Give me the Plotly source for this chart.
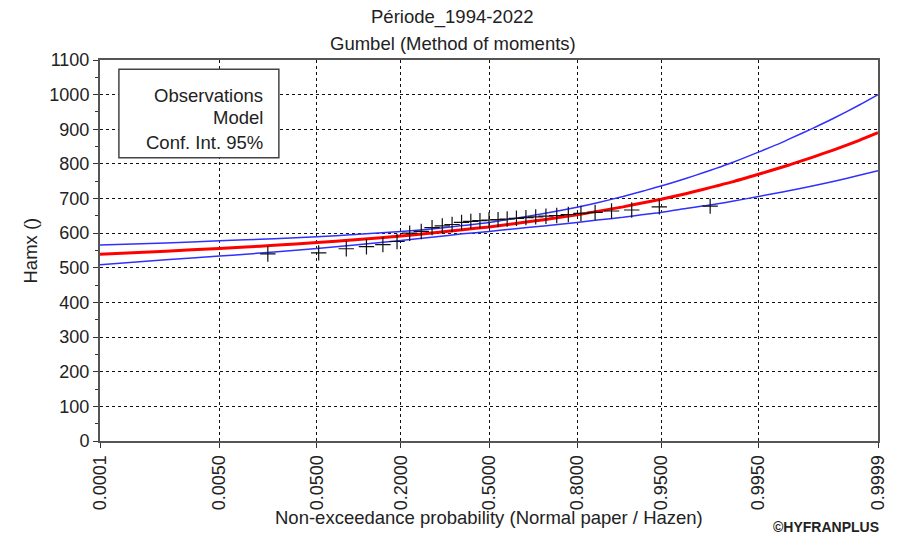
from statistics import NormalDist
import plotly.graph_objects as go

# Annual maxima 1994-2022, sorted ascending
observed = [540, 543, 555, 561, 567, 576, 600, 605, 616, 621, 625, 631, 634, 636, 638,
            639, 641, 643, 645, 647, 649, 651, 654, 657, 660, 664, 667, 676, 678]

# Fitted Gumbel quantiles and 95% confidence band
probs = [0.0001, 0.001, 0.005, 0.01, 0.02, 0.05, 0.1, 0.2, 0.3, 0.4, 0.5, 0.6,
         0.7, 0.8, 0.85, 0.9, 0.93, 0.95, 0.97, 0.98, 0.985, 0.99, 0.995, 0.9975,
         0.998, 0.999, 0.9995, 0.9998, 0.9999]
model = [539, 548, 556, 560, 565, 573, 581, 592, 601, 610, 618, 628,
         639, 653, 663, 676, 688, 698, 714, 727, 736, 748, 770, 791,
         798, 819, 840, 868, 890]
ci_upper = [566, 572, 578, 581, 584, 590, 596, 605, 613, 622, 631, 643,
            657, 675, 688, 706, 722, 736, 758, 775, 787, 804, 834, 863,
            873, 902, 931, 970, 1000]
ci_lower = [509, 523, 534, 539, 546, 556, 566, 579, 589, 598, 605, 613,
            621, 631, 638, 646, 654, 660, 671, 679, 684, 692, 706, 719,
            723, 736, 749, 767, 780]

tick_probs = [0.0001, 0.005, 0.05, 0.2, 0.5, 0.8, 0.95, 0.995, 0.9999]
tick_labels = ["0.0001", "0.0050", "0.0500", "0.2000", "0.5000",
               "0.8000", "0.9500", "0.9950", "0.9999"]

nd = NormalDist()
z = nd.inv_cdf  # normal probability paper

n = len(observed)
hazen = [(i - 0.5) / n for i in range(1, n + 1)]

FONT = "Arial, Liberation Sans, sans-serif"
TXT = "#222"

fig = go.Figure()
for band in (ci_upper, ci_lower):
    fig.add_trace(go.Scatter(x=[z(p) for p in probs], y=band, mode="lines",
                             line=dict(color="#3030ff", width=1.5, shape="spline",
                                       smoothing=0.6),
                             showlegend=False))
fig.add_trace(go.Scatter(x=[z(p) for p in probs], y=model, mode="lines",
                         line=dict(color="#ff0000", width=3, shape="spline",
                                   smoothing=0.6),
                         showlegend=False))
fig.add_trace(go.Scatter(x=[z(p) for p in hazen], y=observed, mode="markers",
                         marker=dict(symbol="cross-thin", size=11,
                                     line=dict(color="#111", width=1.2)),
                         showlegend=False))

xr = [z(tick_probs[0]), z(tick_probs[-1])]

fig.update_xaxes(range=xr, tickmode="array",
                 tickvals=[z(p) for p in tick_probs], ticktext=tick_labels,
                 tickangle=-90, ticks="outside", ticklen=5, tickcolor="#333",
                 showgrid=True, gridcolor="#111", griddash="3px,3px", gridwidth=1,
                 showline=True, linecolor="#555", linewidth=2, mirror=True,
                 zeroline=False, tickfont=dict(family=FONT, size=18, color=TXT))
fig.update_yaxes(range=[0, 1100], tickmode="linear", tick0=0, dtick=100,
                 ticks="outside", ticklen=5, tickcolor="#333",
                 minor=dict(dtick=50, ticks="outside", ticklen=3, tickcolor="#333",
                            showgrid=False),
                 showgrid=True, gridcolor="#111", griddash="3px,3px", gridwidth=1,
                 showline=True, linecolor="#555", linewidth=2, mirror=True,
                 zeroline=False, tickfont=dict(family=FONT, size=18, color=TXT))


def label(text, x, y, xshift=0, yshift=0, size=18.5, xanchor="center", angle=0):
    return dict(text=text, xref="paper", yref="paper", x=x, y=y,
                xshift=xshift, yshift=yshift, xanchor=xanchor, yanchor="middle",
                textangle=angle, showarrow=False,
                font=dict(family=FONT, size=size, color=TXT))


annotations = [
    label("Période_1994-2022", 0.4534, 1, yshift=43),
    label("Gumbel (Method of moments)", 0.4534, 1, yshift=17),
    label("Hamx ()", 0, 0.5, xshift=-70, angle=-90),
    label("Non-exceedance probability (Normal paper / Hazen)", 0.5, 0, yshift=-76),
    label("<b>©HYFRANPLUS</b>", 0.9336, 0, yshift=-86, size=14),
]
legend_items = [("Observations", 0.908), ("Model", 0.8478), ("Conf. Int. 95%", 0.7822)]
for text, ypos in legend_items:
    annotations.append(label(text, 0.2120, ypos, xanchor="right"))

fig.update_layout(
    width=900, height=534,
    margin=dict(l=100, r=17, t=60, b=93),
    paper_bgcolor="white", plot_bgcolor="white",
    showlegend=False,
    annotations=annotations,
    shapes=[dict(type="rect", xref="paper", yref="paper",
                 x0=0.0243, x1=0.2299, y0=0.7436, y1=0.9756,
                 line=dict(color="#444", width=1.5), fillcolor="white", layer="above")],
)

fig.write_html("out.html")
